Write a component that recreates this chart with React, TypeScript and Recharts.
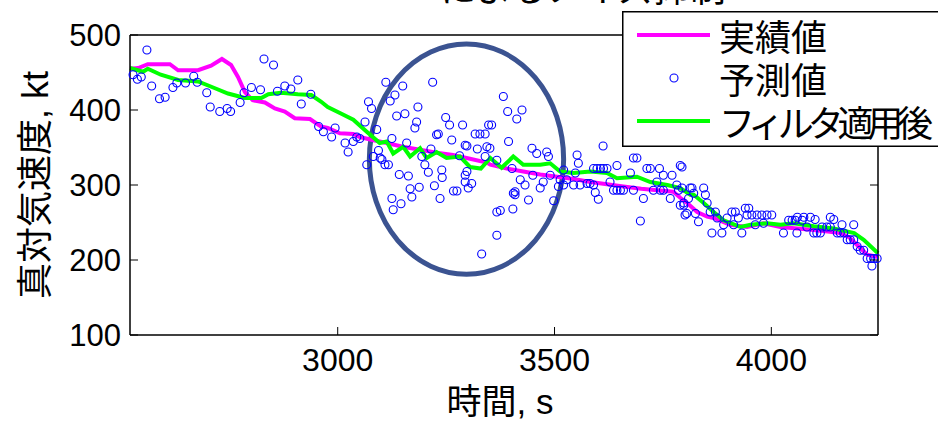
import React from "react";
import { ComposedChart, Line, Scatter, XAxis, YAxis, ReferenceArea, Legend } from "recharts";

const FONT = '"Liberation Sans", "Noto Sans CJK JP", sans-serif';

const TITLE = "によるノイズ抑制";
const X_LABEL = "時間, s";
const Y_LABEL = "真対気速度, kt";
const NAME_ACTUAL = "実績値";
const NAME_PRED = "予測値";
const NAME_FILT = "フィルタ適用後";

const X_DOMAIN = [2521, 4246];
const Y_DOMAIN = [100, 500];
const X_TICKS = [3000, 3500, 4000];
const Y_TICKS = [100, 200, 300, 400, 500];

// 実績値 (magenta)
const actualTime = [2521, 2540, 2562, 2590, 2613, 2632, 2678, 2708, 2733, 2754, 2770, 2786, 2804, 2832, 2855, 2878, 2901, 2936, 2961, 2977, 3005, 3036, 3051, 3080, 3113, 3150, 3190, 3228, 3266, 3305, 3344, 3352, 3390, 3428, 3467, 3506, 3544, 3583, 3621, 3659, 3700, 3737, 3774, 3790, 3806, 3829, 3852, 3867, 3905, 3944, 3982, 4021, 4060, 4098, 4130, 4159, 4180, 4198, 4221, 4246];
const actualSpeed = [455, 456, 461, 461, 461, 453, 453, 459, 468, 460, 444, 424, 413, 410, 402, 398, 389, 388, 378, 376, 369, 368, 364, 360, 356, 351, 347, 343, 340, 335, 330, 327, 322, 318, 314, 311, 308, 304, 301, 298, 295, 293, 291, 283, 276, 264, 258, 256, 247, 244, 249, 244, 242, 240, 238, 236, 230, 220, 207, 204];

// フィルタ適用後 (green)
const filtTime = [2521, 2551, 2562, 2592, 2632, 2678, 2717, 2747, 2786, 2824, 2840, 2869, 2908, 2939, 2962, 2977, 3005, 3036, 3067, 3097, 3113, 3128, 3151, 3167, 3190, 3205, 3228, 3251, 3282, 3305, 3330, 3352, 3378, 3405, 3428, 3467, 3490, 3513, 3544, 3583, 3621, 3644, 3690, 3721, 3760, 3790, 3813, 3821, 3844, 3867, 3890, 3929, 3952, 3990, 4021, 4051, 4098, 4144, 4191, 4213, 4246];
const filtSpeed = [456, 451, 455, 447, 440, 438, 429, 422, 416, 416, 421, 423, 421, 420, 411, 404, 396, 387, 371, 356, 358, 342, 351, 338, 349, 336, 344, 336, 338, 324, 322, 336, 323, 338, 327, 327, 329, 318, 316, 318, 316, 309, 311, 304, 300, 296, 287, 287, 276, 264, 253, 244, 247, 249, 247, 249, 245, 242, 236, 227, 209];

// 予測値 (blue circles)
const predTime = [
  2528, 2538, 2547, 2560, 2571, 2589, 2602, 2620, 2629, 2649, 2668, 2676, 2698, 2706, 2728, 2745, 2753, 2775, 2784, 2801,
  2822, 2830, 2852, 2861, 2878, 2892, 2908, 2916, 2938, 2956, 2967, 2986, 2994, 3017, 3024, 3036, 3044, 3051, 3063, 3067,
  3071, 3078, 3082, 3090, 3094, 3098, 3102, 3109, 3111, 3117, 3121, 3125, 3132, 3136, 3142, 3146, 3150, 3155, 3159, 3163,
  3167, 3171, 3125, 3128, 3178, 3182, 3185, 3188, 3194, 3201, 3209, 3215, 3219, 3223, 3228, 3232, 3236, 3240, 3241, 3249,
  3258, 3263, 3267, 3275, 3281, 3288, 3294, 3298, 3301, 3309, 3317, 3322, 3328, 3340, 3348, 3355, 3351, 3332, 3367, 3367,
  3382, 3392, 3413, 3425, 3294, 3344, 3394, 3448, 3459, 3482, 3486, 3552, 3612, 3682, 3690, 3713, 3721, 3742, 3790, 3644,
  3590, 3598, 3606, 3613, 3621, 3555, 3548, 3298, 3294, 3340, 3367, 3402, 3421, 3432, 3405, 3440, 3375, 3404, 3490, 3513,
  3521, 3544, 3575, 3582, 3590, 3636, 3644, 3652, 3659, 3682, 3594, 3601, 3705, 3767, 3786, 3450, 3474, 3467, 3409, 3409,
  3498, 3509, 3521, 3528, 3559, 3628, 3675, 3698, 3728, 3744, 3751, 3736, 3751, 3771, 3794, 3782, 3790, 3798, 3801, 3809,
  3794, 3798, 3805, 3813, 3817, 3821, 3825, 3832, 3844, 3848, 3852, 3859, 3863, 3871, 3875, 3886, 3890, 3898, 3909, 3917,
  3913, 3924, 3932, 3940, 3948, 3944, 3955, 3967, 3978, 3990, 4001, 3963, 3982, 4028, 4040, 4048, 4055, 4059, 4071, 4082,
  4098, 4105, 4113, 4101, 4117, 4128, 4136, 4144, 4152, 4159, 4167, 4163, 4175, 4182, 4190, 4190, 4198, 4205, 4213, 4221,
  4229, 4236, 4244, 4232, 4060, 4075, 4090, 4136,
];
const predSpeed = [
  447, 441, 444, 480, 432, 415, 417, 430, 436, 436, 445, 437, 423, 404, 398, 402, 398, 410, 423, 430,
  427, 468, 460, 425, 432, 428, 440, 408, 421, 378, 371, 364, 376, 356, 344, 358, 364, 362, 384, 327,
  411, 402, 338, 374, 346, 336, 334, 327, 437, 327, 412, 362, 420, 392, 314, 275, 432, 395, 356, 312,
  295, 284, 282, 267, 376, 384, 404, 297, 338, 327, 317, 348, 437, 299, 367, 368, 282, 320, 310, 390,
  380, 360, 292, 292, 339, 380, 313, 352, 296, 302, 368, 348, 368, 368, 380, 380, 349, 208, 264, 233,
  418, 398, 388, 400, 353, 351, 358, 349, 342, 344, 338, 340, 352, 336, 336, 322, 322, 322, 326, 326,
  322, 322, 322, 322, 322, 329, 316, 318, 304, 338, 333, 322, 307, 300, 289, 280, 266, 268, 313, 307,
  300, 300, 302, 302, 300, 293, 293, 293, 293, 293, 290, 281, 282, 282, 293, 313, 304, 296, 291, 287,
  279, 298, 320, 307, 300, 304, 316, 252, 293, 293, 293, 304, 313, 313, 324, 300, 273, 273, 260, 282,
  296, 276, 262, 296, 296, 289, 262, 251, 296, 287, 276, 264, 236, 264, 256, 236, 247, 256, 264, 264,
  247, 256, 236, 269, 269, 260, 260, 260, 260, 260, 260, 247, 249, 236, 253, 253, 253, 236, 253, 244,
  236, 236, 236, 254, 244, 244, 244, 254, 236, 236, 236, 247, 227, 227, 227, 247, 218, 213, 213, 202,
  202, 202, 202, 192, 257, 257, 257, 257,
];

// highlighted region (ellipse bounds, data units)
const ELLIPSE_X = [3073, 3521];
const ELLIPSE_Y = [181, 488];

const actualData = actualTime.map((t, i) => ({ t, v: actualSpeed[i] }));
const filtData = filtTime.map((t, i) => ({ t, v: filtSpeed[i] }));
const predData = predTime.map((t, i) => ({ t, v: predSpeed[i] }));

const BottomTick = ({ x, y, payload }: any) => (
  <g>
    <line x1={x} x2={x} y1={y} y2={y - 8} stroke="#000" strokeWidth={1} />
    <text x={x} y={y + 36} textAnchor="middle" fontFamily={FONT} fontSize={32} fill="#000">
      {payload.value}
    </text>
  </g>
);

const LeftTick = ({ x, y, payload }: any) => (
  <g>
    <line x1={x} x2={x + 8} y1={y} y2={y} stroke="#000" strokeWidth={1} />
    <text x={x - 9} y={y} textAnchor="end" dominantBaseline="central" fontFamily={FONT} fontSize={31} fill="#000">
      {payload.value}
    </text>
  </g>
);

const TopTick = ({ x, y }: any) => <line x1={x} x2={x} y1={y} y2={y + 8} stroke="#000" strokeWidth={1} />;
const RightTick = ({ x, y }: any) => <line x1={x} x2={x - 8} y1={y} y2={y} stroke="#000" strokeWidth={1} />;

const Circle = ({ cx, cy }: any) => <circle cx={cx} cy={cy} r={4} fill="none" stroke="#0000ff" strokeWidth={1.1} />;

const Ellipse = ({ x, y, width, height }: any) => (
  <ellipse cx={x + width / 2} cy={y + height / 2} rx={width / 2} ry={height / 2}
    fill="none" stroke="#3b5391" strokeWidth={5} />
);

const LegendBox = () => (
  <svg width={318} height={136} style={{ display: "block", background: "#fff" }}>
    <rect x={0.75} y={0.75} width={320} height={134.5} fill="#fff" stroke="#000" strokeWidth={1.5} />
    <line x1={15} x2={88} y1={24} y2={24} stroke="#ff00ff" strokeWidth={4} />
    <circle cx={52} cy={67} r={4} fill="none" stroke="#0000ff" strokeWidth={1.1} />
    <line x1={15} x2={88} y1={110} y2={110} stroke="#00ff00" strokeWidth={4} />
    <g fontFamily={FONT} fontSize={36} fill="#000">
      <text x={97} y={27} dominantBaseline="central">{NAME_ACTUAL}</text>
      <text x={97} y={70} dominantBaseline="central">{NAME_PRED}</text>
      <text x={97} y={113} dominantBaseline="central" textLength={214} lengthAdjust="spacing">{NAME_FILT}</text>
    </g>
  </svg>
);

export default function App() {
  return (
    <div style={{ position: "absolute", left: 0, top: 0, width: 938, height: 421, overflow: "hidden", background: "#fff" }}>
      <ComposedChart width={938} height={421} margin={{ top: 34, right: 59, bottom: 85, left: 129 }}>
        <XAxis xAxisId="b" dataKey="t" type="number" domain={X_DOMAIN} ticks={X_TICKS} height={1}
          tickSize={0} tickMargin={0} tickLine={false} tick={<BottomTick />}
          axisLine={{ stroke: "#000", strokeWidth: 1.5 }}
          label={({ viewBox }: any) => (
            <text x={viewBox.x + viewBox.width / 2 - 4} y={414} textAnchor="middle" fontFamily={FONT} fontSize={35} fill="#000">
              {X_LABEL}
            </text>
          )} />
        <XAxis xAxisId="top" orientation="top" type="number" domain={X_DOMAIN} ticks={X_TICKS} height={1}
          allowDataOverflow tickSize={0} tickMargin={0} tickLine={false} tick={<TopTick />}
          axisLine={{ stroke: "#000", strokeWidth: 1.5 }}
          label={() => (
            <text x={440} y={2} fontFamily={FONT} fontSize={36} fill="#000">{TITLE}</text>
          )} />
        <YAxis yAxisId="l" type="number" domain={Y_DOMAIN} ticks={Y_TICKS} width={1}
          tickSize={0} tickMargin={0} tickLine={false} tick={<LeftTick />}
          axisLine={{ stroke: "#000", strokeWidth: 1.5 }}
          label={({ viewBox }: any) => {
            const cx = 35;
            const cy = viewBox.y + viewBox.height / 2;
            return (
              <text x={cx} y={cy} transform={`rotate(-90 ${cx} ${cy})`} textAnchor="middle" dominantBaseline="central"
                fontFamily={FONT} fontSize={36} fill="#000">
                {Y_LABEL}
              </text>
            );
          }} />
        <YAxis yAxisId="r" orientation="right" type="number" domain={Y_DOMAIN} ticks={Y_TICKS} width={1}
          allowDataOverflow tickSize={0} tickMargin={0} tickLine={false} tick={<RightTick />}
          axisLine={{ stroke: "#000", strokeWidth: 1.5 }} />

        <Line xAxisId="b" yAxisId="l" data={actualData} dataKey="v" name={NAME_ACTUAL} type="linear"
          stroke="#ff00ff" strokeWidth={4} dot={false} isAnimationActive={false} />
        <Scatter xAxisId="b" yAxisId="l" data={predData} dataKey="v" name={NAME_PRED}
          shape={<Circle />} isAnimationActive={false} />
        <Line xAxisId="b" yAxisId="l" data={filtData} dataKey="v" name={NAME_FILT} type="linear"
          stroke="#00ff00" strokeWidth={4} dot={false} isAnimationActive={false} />

        <ReferenceArea xAxisId="b" yAxisId="l" x1={ELLIPSE_X[0]} x2={ELLIPSE_X[1]} y1={ELLIPSE_Y[0]} y2={ELLIPSE_Y[1]}
          shape={<Ellipse />} />

        <Legend layout="horizontal" verticalAlign="middle" align="center"
          wrapperStyle={{ left: 622, top: 11, width: 318, height: 136 }} content={() => <LegendBox />} />
      </ComposedChart>
    </div>
  );
}
